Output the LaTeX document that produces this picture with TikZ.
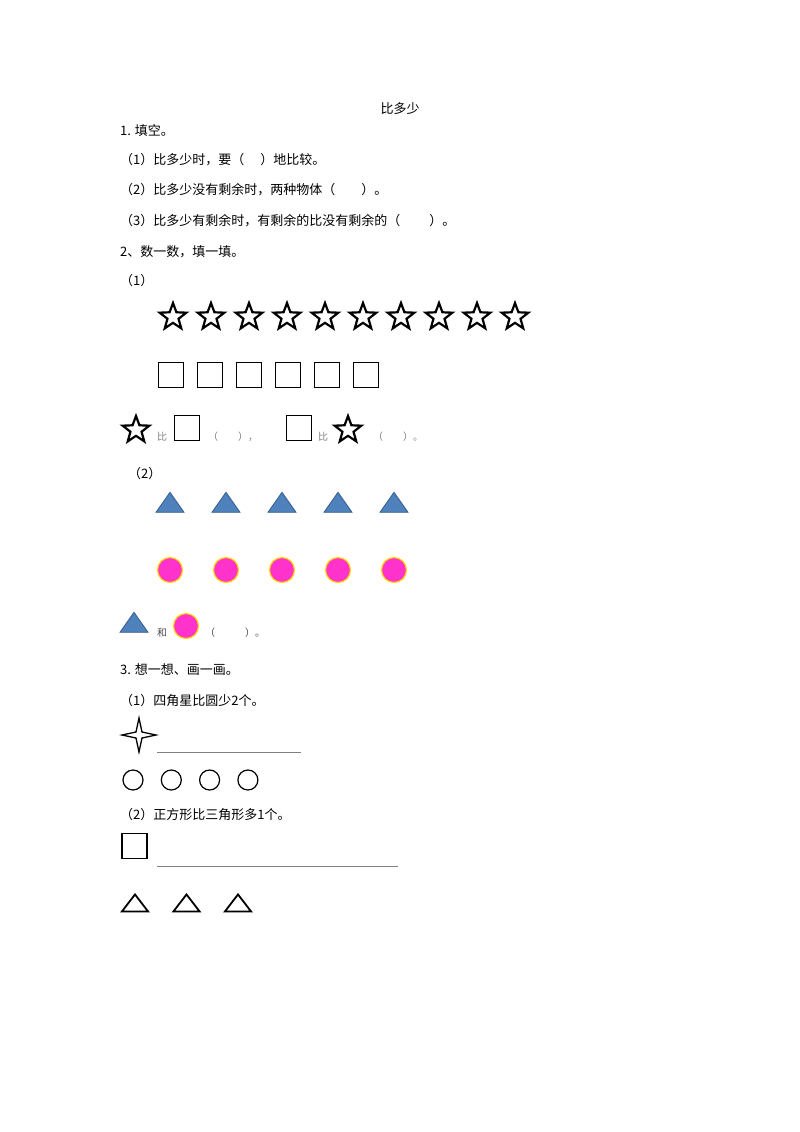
\documentclass[tikz,border=0pt]{standalone}
\usepackage{fontspec}
\setmainfont{Liberation Serif}
\newfontfamily\cjk{Noto Sans CJK SC}
\usetikzlibrary{shapes.geometric}
\definecolor{triblue}{HTML}{4F81BD}
\definecolor{tribord}{HTML}{385D8A}
\definecolor{pinkc}{HTML}{FF33CC}
\definecolor{yelc}{HTML}{FFD700}
\tikzset{
 txt/.style={anchor=west,inner sep=0,font=\cjk\fontsize{13}{13}\selectfont},
 gtxt/.style={anchor=west,inner sep=0,font=\cjk\fontsize{10}{10}\selectfont,text=gray},
 bstar/.style={star,star points=5,star point ratio=2.4,draw=black,line width=2.2pt,minimum size=28pt,inner sep=0},
 sq/.style={draw=black,line width=1.8pt,minimum size=25pt,inner sep=0},
 btri/.style={isosceles triangle,isosceles triangle apex angle=70,shape border rotate=90,fill=triblue,draw=tribord,line width=0.8pt,minimum height=20pt,inner sep=0},
 pc/.style={circle,fill=pinkc,draw=yelc,line width=1.2pt,minimum size=25pt,inner sep=0},
 oc/.style={circle,draw=black,line width=1.2pt,minimum size=20pt,inner sep=0},
 otri/.style={isosceles triangle,isosceles triangle apex angle=75,shape border rotate=90,draw=black,line width=1.8pt,minimum height=17pt,inner sep=0},
 ans/.style={draw=gray,line width=1pt}
}
\begin{document}
\begin{tikzpicture}[x=1pt,y=-1pt]
\useasboundingbox (0,0) rectangle (800,1132);
\node[txt,anchor=center] (title) at (400,109) {比多少};
\node[txt] (q1) at (120,131) {1. 填空。};
\node[txt] (q11) at (120,160) {（1）比多少时，要（\quad\ ）地比较。};
\node[txt] (q12) at (120,190) {（2）比多少没有剩余时，两种物体（\qquad ）。};
\node[txt] (q13) at (120,221) {（3）比多少有剩余时，有剩余的比没有剩余的（\qquad\ ）。};
\node[txt] (q2) at (120,252) {2、数一数，填一填。};
\node[txt] (q21) at (120,281) {（1）};
\foreach \i in {0,...,9} \node[bstar] (s\i) at (173+38*\i,317) {};
\foreach \i in {0,...,5} \node[sq] (b\i) at (171+39*\i,375) {};
\node[bstar] (ra) at (136,430) {};
\node[gtxt] (rb) at (157,437) {比};
\node[sq] (rc) at (187,428) {};
\node[gtxt] (rd) at (208,437) {（\qquad ），};
\node[sq] (re) at (299,428) {};
\node[gtxt] (rf) at (318,437) {比};
\node[bstar] (rg) at (348,430) {};
\node[gtxt] (rh) at (373,437) {（\qquad ）。};
\node[txt] (q22) at (128,474) {（2）};
\foreach \i in {0,...,4} {
 \node[btri] (t\i) at (170+56*\i,505) {};
 \node[pc] (c\i) at (170+56*\i,570) {};
}
\node[btri] (ta) at (134,625) {};
\node[gtxt,text=black!70] (tb) at (157,633) {和};
\node[pc] (tc) at (186,626) {};
\node[gtxt,text=black!70] (td) at (205,633) {（\qquad\quad ）。};
\node[txt] (q3) at (120,670) {3. 想一想、画一画。};
\node[txt] (q31) at (120,701) {（1）四角星比圆少2个。};
\node[star,star points=4,star point ratio=4,draw=black,line width=1.3pt,minimum size=34pt,inner sep=0] (fs) at (139,735) {};
\coordinate (l1a) at (157,752); \coordinate (l1b) at (301,752);
\draw[ans] (l1a) -- (l1b);
\foreach \i in {0,...,3} \node[oc] (o\i) at (133+38.3*\i,780) {};
\node[txt] (q32) at (120,815) {（2）正方形比三角形多1个。};
\node[sq] (sq2) at (134.5,846) {};
\coordinate (l2a) at (157,866); \coordinate (l2b) at (398,866);
\draw[ans] (l2a) -- (l2b);
\foreach \i in {0,...,2} \node[otri] (w\i) at (135+51.5*\i,905) {};
\end{tikzpicture}
\end{document}
